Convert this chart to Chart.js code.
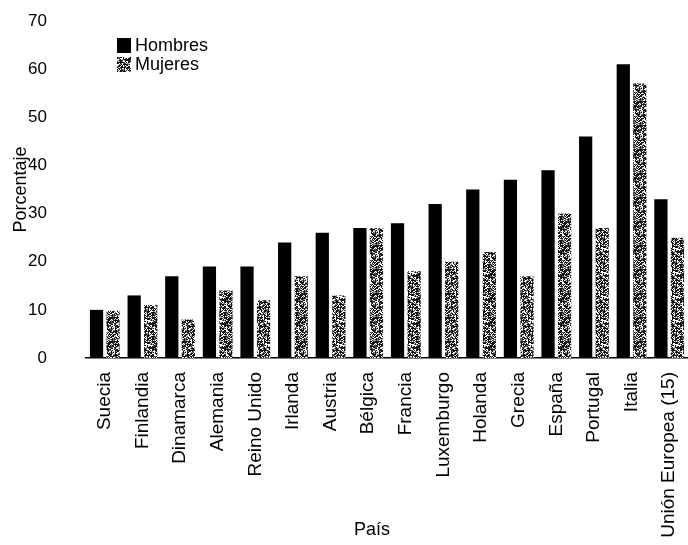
<!DOCTYPE html>
<html>
<head>
<meta charset="utf-8">
<script src="https://cdn.jsdelivr.net/npm/chart.js@4.4.0/dist/chart.umd.min.js"></script>
<style>
  html, body { margin: 0; padding: 0; background: #fff; }
  #wrap { width: 688px; height: 545px; }
</style>
</head>
<body>
<div id="wrap"><canvas id="chart" width="688" height="545"></canvas></div>
<script>
// Datos
const paises = ['Suecia', 'Finlandia', 'Dinamarca', 'Alemania', 'Reino Unido', 'Irlanda', 'Austria',
  'Bélgica', 'Francia', 'Luxemburgo', 'Holanda', 'Grecia', 'España', 'Portugal', 'Italia', 'Unión Europea (15)'];
const hombres = [10, 13, 17, 19, 19, 24, 26, 27, 28, 32, 35, 37, 39, 46, 61, 33];
const mujeres = [9.8, 11, 8, 14, 12, 17, 13, 27, 18, 20, 22, 17, 30, 27, 57, 25];
const yTicks = [0, 10, 20, 30, 40, 50, 60, 70];

const fuente = "'Liberation Sans', Arial, sans-serif";

// Textura moteada para la serie Mujeres
function texturaMoteada() {
  const c = document.createElement('canvas');
  c.width = 24; c.height = 24;
  const g = c.getContext('2d');
  const img = g.createImageData(24, 24);
  for (let i = 0; i < 24 * 24; i++) {
    const h = Math.sin(i * 12.9898 + 78.233) * 43758.5453;
    const v = h - Math.floor(h);
    const col = v < 0.55 ? 20 : (v < 0.72 ? 130 : 255);
    img.data[i * 4] = col; img.data[i * 4 + 1] = col; img.data[i * 4 + 2] = col; img.data[i * 4 + 3] = 255;
  }
  g.putImageData(img, 0, 0);
  return g.createPattern(c, 'repeat');
}
const patron = texturaMoteada();

// Leyenda dentro del área y título del eje X
const extras = {
  id: 'extras',
  afterDraw(chart) {
    const ctx = chart.ctx;
    ctx.save();
    ctx.font = '18px ' + fuente;
    ctx.textBaseline = 'middle';
    ctx.textAlign = 'left';
    ctx.fillStyle = '#000';
    ctx.fillRect(117, 38, 14, 15);
    ctx.fillText(chart.data.datasets[0].label, 135, 46);
    ctx.fillStyle = patron;
    ctx.fillRect(117, 57, 14, 15);
    ctx.fillStyle = '#000';
    ctx.fillText(chart.data.datasets[1].label, 135, 65);
    ctx.textAlign = 'center';
    ctx.fillText('País', 372, 530);
    ctx.restore();
  }
};

new Chart(document.getElementById('chart'), {
  type: 'bar',
  data: {
    labels: paises,
    datasets: [
      { label: 'Hombres', data: hombres, backgroundColor: '#000' },
      { label: 'Mujeres', data: mujeres, backgroundColor: patron }
    ]
  },
  options: {
    responsive: false,
    animation: false,
    layout: { padding: { top: 21, right: 0, left: 0, bottom: 0 } },
    datasets: { bar: { categoryPercentage: 0.88, barPercentage: 0.8 } },
    plugins: { legend: { display: false }, tooltip: { enabled: false } },
    scales: {
      x: {
        grid: { display: false },
        border: { display: true, color: '#000', width: 1.5 },
        ticks: { color: '#000', font: { family: fuente, size: 19 }, minRotation: 90, maxRotation: 90, padding: 6, autoSkip: false },
        afterFit: s => { s.height = 187; s.paddingLeft = 0; s.paddingRight = 0; }
      },
      y: {
        min: 0, max: 70,
        afterBuildTicks: s => { s.ticks = yTicks.map(v => ({ value: v })); },
        grid: { display: false },
        border: { display: false },
        ticks: { color: '#000', font: { family: fuente, size: 17 }, padding: 31 },
        title: { display: true, text: 'Porcentaje', color: '#000', font: { family: fuente, size: 18 }, padding: { top: 10, bottom: 0 } },
        afterFit: s => { s.width = 86; s.paddingTop = 0; s.paddingBottom = 0; }
      }
    }
  },
  plugins: [extras]
});
</script>
</body>
</html>
